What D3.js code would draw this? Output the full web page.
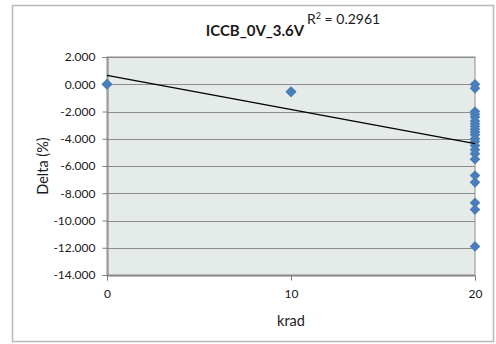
<!DOCTYPE html>
<html>
<head>
<meta charset="utf-8">
<script src="https://cdn.jsdelivr.net/npm/d3@7"></script>
<style>
  html, body { margin: 0; padding: 0; background: #ffffff; }
  svg { display: block; }
  text { font-family: Lato, "Open Sans", "DejaVu Sans", sans-serif; fill: #1a1a1a; }
</style>
</head>
<body>
<svg id="chart" width="496" height="344"></svg>
<script>
// Delta (%) of ICCB at 0 V / 3.6 V versus total dose (krad)
const doseAt0 = [0, 0, 0];
const deltaAt0 = [0, 0, 0];
const doseAt10 = [10, 10, 10];
const deltaAt10 = [-0.55, -0.55, -0.55];
const doseAt20 = [20, 20, 20, 20, 20, 20, 20, 20, 20, 20, 20,
                  20, 20, 20, 20, 20, 20, 20, 20, 20, 20, 20];
const deltaAt20 = [0.0, -0.3, -2.0, -2.2, -2.4, -2.7, -2.9, -3.1, -3.3, -3.5, -3.7,
                   -4.0, -4.2, -4.5, -4.8, -5.1, -5.5, -6.7, -7.2, -8.7, -9.2, -11.9];
const yTicks = [2, 0, -2, -4, -6, -8, -10, -12, -14];
const xTicks = [0, 10, 20];
const chartTitle = "ICCB_0V_3.6V";
const rSquared = "0.2961";

const points = [];
[[doseAt0, deltaAt0], [doseAt10, deltaAt10], [doseAt20, deltaAt20]].forEach(([xs, ys]) => {
  xs.forEach((x, i) => points.push({ x, y: ys[i] }));
});

// Least-squares linear trend
const mx = d3.mean(points, d => d.x);
const my = d3.mean(points, d => d.y);
const sxy = d3.sum(points, d => (d.x - mx) * (d.y - my));
const sxx = d3.sum(points, d => (d.x - mx) ** 2);
const slope = sxy / sxx;
const intercept = my - slope * mx;

const svg = d3.select("#chart");

// Outer chart frame
svg.append("rect")
  .attr("x", 12.5).attr("y", 5.5)
  .attr("width", 481).attr("height", 336)
  .attr("fill", "#ffffff")
  .attr("stroke", "#b8b8b8").attr("stroke-width", 1.5);

const plot = { left: 107, right: 475, top: 57, bottom: 275 };

const x = d3.scaleLinear().domain([0, 20]).range([plot.left, plot.right]);
const y = d3.scaleLinear().domain([-14, 2]).range([plot.bottom, plot.top]);

// Plot area background
svg.append("rect")
  .attr("x", plot.left).attr("y", plot.top)
  .attr("width", plot.right - plot.left).attr("height", plot.bottom - plot.top)
  .attr("fill", "#e5ebe8")
  .attr("stroke", "#8c8c8c").attr("stroke-width", 1);

// Horizontal gridlines
svg.append("g")
  .selectAll("line")
  .data(yTicks)
  .join("line")
  .attr("x1", plot.left).attr("x2", plot.right)
  .attr("y1", d => Math.round(y(d)) + 0.5).attr("y2", d => Math.round(y(d)) + 0.5)
  .attr("stroke", "#8c8c8c").attr("stroke-width", 1);

// Y axis
const yAxis = svg.append("g")
  .attr("transform", `translate(${plot.left + 0.5},0)`)
  .call(d3.axisLeft(y).tickValues(yTicks).tickSize(5).tickPadding(7)
    .tickFormat(d => d3.format(".3f")(d).replace("−", "-")));
yAxis.select(".domain").attr("stroke", "#7f7f7f");
yAxis.selectAll(".tick line").attr("stroke", "#7f7f7f");
yAxis.selectAll(".tick text").attr("font-size", 12);

// X axis
const xAxis = svg.append("g")
  .attr("transform", `translate(0,${plot.bottom + 0.5})`)
  .call(d3.axisBottom(x).tickValues(xTicks).tickSize(5).tickPadding(9)
    .tickFormat(d3.format("d")));
xAxis.select(".domain").attr("stroke", "#7f7f7f");
xAxis.selectAll(".tick line").attr("stroke", "#7f7f7f");
xAxis.selectAll(".tick text").attr("font-size", 12);

// Data points (diamonds)
svg.append("g")
  .selectAll("path")
  .data(points)
  .join("path")
  .attr("transform", d => `translate(${x(d.x)},${y(d.y)})`)
  .attr("d", d3.symbol().type(d3.symbolDiamond2).size(72))
  .attr("fill", "#4a7ebb");

// Linear trendline
svg.append("line")
  .attr("x1", x(0)).attr("y1", y(intercept))
  .attr("x2", x(20)).attr("y2", y(intercept + slope * 20))
  .attr("stroke", "#000000").attr("stroke-width", 1.3);

// Title and R² label
svg.append("text")
  .attr("x", 255).attr("y", 36)
  .attr("text-anchor", "middle")
  .attr("font-size", 15).attr("font-weight", "bold")
  .text(chartTitle);

const r2 = svg.append("text")
  .attr("x", 307).attr("y", 24)
  .attr("font-size", 14);
r2.append("tspan").text("R");
r2.append("tspan").attr("dy", -5).attr("font-size", 9).text("2");
r2.append("tspan").attr("dy", 5).text(" = " + rSquared);

// Axis titles
svg.append("text")
  .attr("x", (plot.left + plot.right) / 2).attr("y", 326)
  .attr("text-anchor", "middle")
  .attr("font-size", 14.5)
  .text("krad");

svg.append("text")
  .attr("transform", `translate(48,${(plot.top + plot.bottom) / 2}) rotate(-90)`)
  .attr("text-anchor", "middle")
  .attr("font-size", 14.5)
  .text("Delta (%)");
</script>
</body>
</html>
